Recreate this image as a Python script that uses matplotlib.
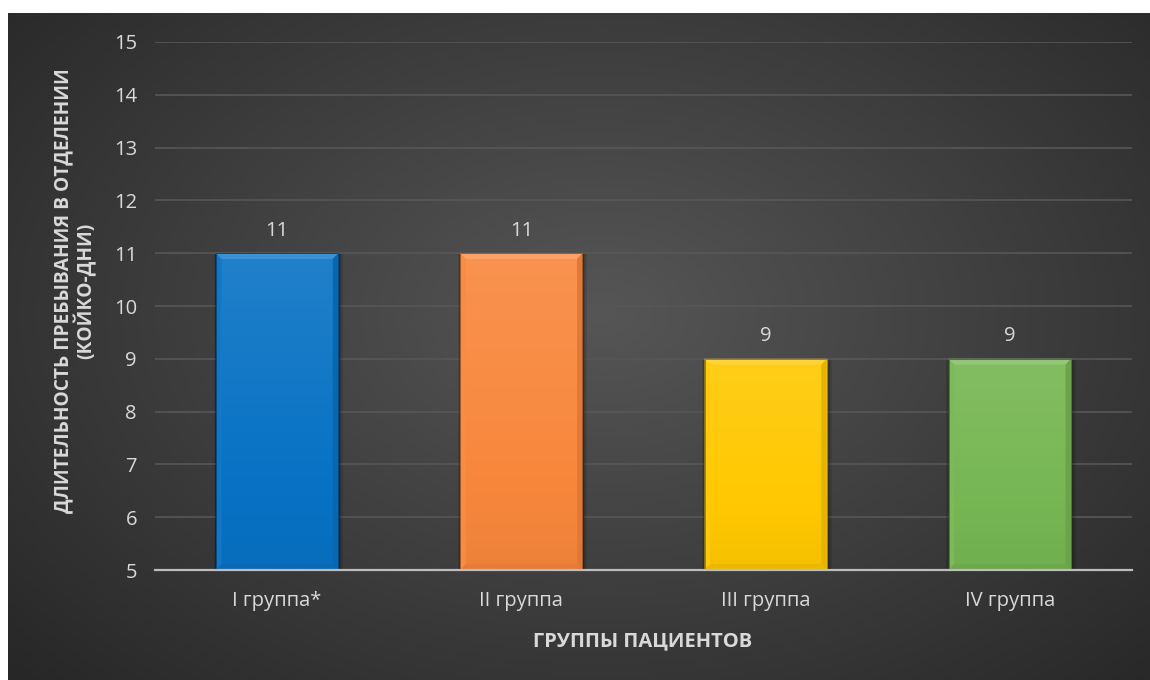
import numpy as np
import matplotlib
matplotlib.use("Agg")
import matplotlib.pyplot as plt
from matplotlib.patches import Polygon

plt.rcParams['font.family'] = ['Open Sans', 'DejaVu Sans']

groups = ['I группа*', 'II группа', 'III группа', 'IV группа']
bed_days = [11, 11, 9, 9]
bar_colors = ['#0872c4', '#f8873c', '#ffc800', '#76b652']
ylabel = 'ДЛИТЕЛЬНОСТЬ ПРЕБЫВАНИЯ В ОТДЕЛЕНИИ\n(КОЙКО-ДНИ)'
xlabel = 'ГРУППЫ ПАЦИЕНТОВ'

W, H = 1150, 680
fig = plt.figure(figsize=(W / 100, H / 100), dpi=100, facecolor='white')

# dark panel with a radial gradient
bg = fig.add_axes([8 / W, 0, 1 - 8 / W, 1 - 13 / H])
bg.axis('off')
yy, xx = np.mgrid[0:1:400j, 0:1:700j]
r = np.sqrt(((xx - 0.52) / 0.75) ** 2 + ((yy - 0.45) / 0.85) ** 2)
r = np.clip(r, 0, 1)
lo = np.array([0x56, 0x56, 0x56]) / 255
hi = np.array([0x24, 0x24, 0x24]) / 255
img = lo[None, None, :] * (1 - r[..., None]) + hi[None, None, :] * r[..., None]
bg.imshow(img, aspect='auto', extent=[0, 1, 0, 1], interpolation='bicubic')
bg.set_xlim(0, 1)
bg.set_ylim(0, 1)

ax = fig.add_axes([155 / W, 1 - 570 / H, (1132 - 155) / W, (570 - 42) / H])
ax.patch.set_alpha(0)
x = np.arange(len(groups))
width = 0.5

ax.set_xlim(-0.5, len(groups) - 0.5)
ax.set_ylim(5, 15)
ax.set_yticks(range(5, 16))
ax.grid(axis='y', color='#575757', lw=1.2)
ax.set_axisbelow(True)
for s in ['top', 'right', 'left']:
    ax.spines[s].set_visible(False)
ax.spines['bottom'].set_color('#bdbdbd')
ax.spines['bottom'].set_linewidth(1.6)
ax.spines['bottom'].set_zorder(5)
ax.tick_params(axis='both', length=0, colors='#d9d9d9', labelsize=14.5)
ax.tick_params(axis='y', pad=13)
ax.tick_params(axis='x', pad=15)
ax.set_xticks(x)
ax.set_xticklabels(groups)


def shade(c, f):
    c = np.array(matplotlib.colors.to_rgb(c))
    if f > 0:
        return tuple(c + (1 - c) * f)
    return tuple(c * (1 + f))


bars = ax.bar(x, [v - 5 for v in bed_days], width, bottom=5, color=bar_colors,
              zorder=3, linewidth=0)

# bevel edges and soft shadow for each bar
bx = 0.022
by = 0.11
for b, c in zip(bars, bar_colors):
    x0, y0 = b.get_x(), b.get_y()
    x1, y1 = x0 + b.get_width(), y0 + b.get_height()
    for k, a in [(0.02, 0.10), (0.012, 0.15), (0.006, 0.2)]:
        ax.add_patch(Polygon([(x0 - k / 2, y0), (x1 + k, y0), (x1 + k, y1 - 0.02),
                              (x0 - k / 2, y1 - 0.02)], closed=True,
                             color='black', alpha=a, lw=0, zorder=2.5))
    grad = np.linspace(0.1, -0.04, 50)[:, None]
    cols = np.array([shade(c, g) for g in grad[:, 0]])[:, None, :]
    im = ax.imshow(cols, extent=[x0, x1, y0, y1], aspect='auto', zorder=3.1,
                   origin='upper', interpolation='bicubic')
    im.set_clip_path(b)
    ax.add_patch(Polygon([(x0, y1), (x1, y1), (x1 - bx, y1 - by), (x0 + bx, y1 - by)],
                         color=shade(c, 0.22), lw=0, zorder=3.3))
    ax.add_patch(Polygon([(x0, y0), (x1, y0), (x1 - bx, y0 + by), (x0 + bx, y0 + by)],
                         color=shade(c, -0.08), lw=0, zorder=3.3))
    ax.add_patch(Polygon([(x1, y0), (x1, y1), (x1 - bx, y1 - by), (x1 - bx, y0 + by)],
                         color=shade(c, -0.1), lw=0, zorder=3.3))
    ax.add_patch(Polygon([(x0, y0), (x0, y1), (x0 + bx, y1 - by), (x0 + bx, y0 + by)],
                         color=shade(c, 0.04), lw=0, zorder=3.3))
    ax.add_patch(Polygon([(x0, y0), (x1, y0), (x1, y1), (x0, y1)], closed=True,
                         fill=False, ec=shade(c, -0.35), lw=0.7, zorder=3.4))

for xi, v in zip(x, bed_days):
    ax.annotate(str(v), (xi, v), xytext=(0, 9), textcoords='offset points',
                ha='center', va='bottom', color='#d9d9d9', fontsize=14.5)

fig.text(643 / W, 1 - 641 / H, xlabel, ha='center', va='center',
         color='#d9d9d9', fontsize=14.5, fontweight='bold')
fig.text(75 / W, 1 - 291 / H, ylabel, ha='center', va='center', rotation=90,
         multialignment='center', color='#d9d9d9', fontsize=13.8,
         fontweight='bold', linespacing=1.0)

fig.savefig('out.png', dpi=100, facecolor=fig.get_facecolor())
